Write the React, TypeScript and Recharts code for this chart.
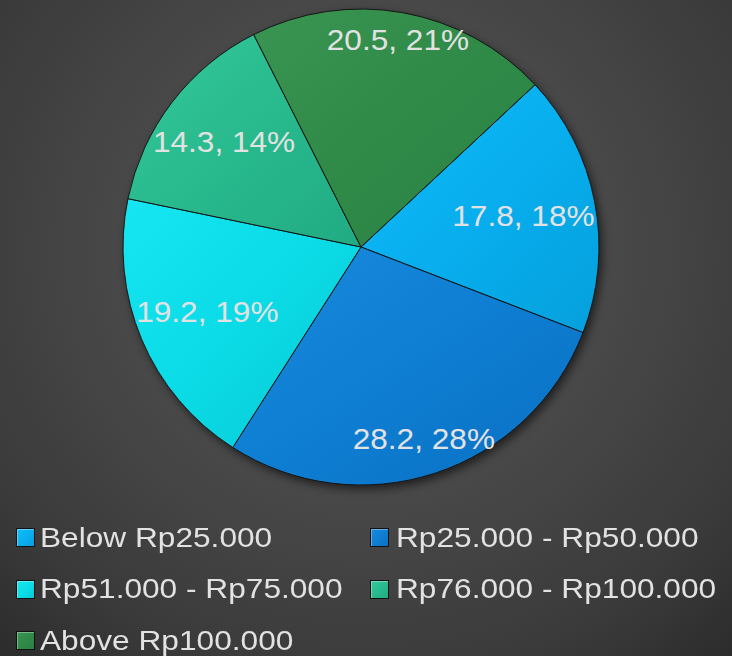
import { PieChart, Pie, Cell, Legend } from 'recharts';

const categories = [
  'Below Rp25.000',
  'Rp25.000 - Rp50.000',
  'Rp51.000 - Rp75.000',
  'Rp76.000 - Rp100.000',
  'Above Rp100.000',
];
const values = [17.8, 28.2, 19.2, 14.3, 20.5];

// slice shading: base colour plus lighter / darker ends of the gradient
const baseColors = ['#08aeee', '#0e7ed2', '#0bdbe6', '#28b98d', '#2f8a48'];
const lightColors = ['#12bcfb', '#1a8ade', '#16e6f2', '#34c99a', '#3a9452'];
const darkColors = ['#05a0dc', '#0a70c2', '#07c8d4', '#21ab83', '#2a8142'];

const data = categories.map((name, i) => ({ name, value: values[i] }));
const total = values.reduce((a, b) => a + b, 0);

const RADIAN = Math.PI / 180;
const FONT = "'Liberation Sans', Arial, Helvetica, sans-serif";
const LABEL_W = 142;
const LABEL_H = 30;

function renderLabel(props: any) {
  const { cx, cy, midAngle, outerRadius, value } = props;
  const c = Math.cos(-midAngle * RADIAN);
  const s = Math.sin(-midAngle * RADIAN);
  // keep the label box inside the slice near the rim
  const r = outerRadius - (LABEL_W / 2) * Math.abs(c) - (LABEL_H / 2) * Math.abs(s);
  const x = cx + r * c;
  const y = cy + r * s;
  const pct = Math.round(+((value * 100) / total).toFixed(6));
  return (
    <text
      transform={`translate(${x},${y}) scale(1.09,1)`}
      textAnchor="middle"
      dominantBaseline="central"
      fill="#e2e2e2"
      fontSize={29}
      fontFamily={FONT}
    >
      {`${value}, ${pct}%`}
    </text>
  );
}

function LegendContent(props: any) {
  const payload = [...(props.payload || [])].sort(
    (a: any, b: any) => categories.indexOf(a.value) - categories.indexOf(b.value)
  );
  return (
    <div style={{ position: 'relative', width: 732, height: 151 }}>
      {payload.map((entry: any) => {
        const i = categories.indexOf(entry.value);
        const col = i % 2;
        const row = Math.floor(i / 2);
        return (
          <div
            key={`leg-${i}`}
            style={{
              position: 'absolute',
              left: col === 0 ? 16 : 370,
              top: 32.5 + row * 51.7 - 14,
              height: 28,
              display: 'flex',
              alignItems: 'center',
            }}
          >
            <span
              style={{
                display: 'inline-block',
                width: 17,
                height: 17,
                border: '1px solid #111',
                background: `linear-gradient(135deg, ${lightColors[i]} 0%, ${baseColors[i]} 55%, ${darkColors[i]} 100%)`,
                boxShadow: 'inset 1px 1px 0 rgba(255,255,255,0.35)',
              }}
            />
            <span
              style={{
                display: 'inline-block',
                marginLeft: col === 0 ? 5 : 7,
                fontFamily: FONT,
                fontSize: 28,
                lineHeight: '28px',
                color: '#e2e2e2',
                whiteSpace: 'nowrap',
                transform: 'scaleX(1.13)',
                transformOrigin: 'left center',
              }}
            >
              {entry.value}
            </span>
          </div>
        );
      })}
    </div>
  );
}

export default function App() {
  return (
    <div
      style={{
        position: 'absolute',
        left: 0,
        top: 0,
        width: 732,
        height: 656,
        overflow: 'hidden',
        background:
          'radial-gradient(circle 560px at 366px 250px, #565656 0%, #484848 45%, #3a3a3a 78%, #2a2a2a 100%)',
      }}
    >
      <style>{`.recharts-pie { filter: drop-shadow(3px 4px 4px rgba(0,0,0,0.55)); }`}</style>
      <PieChart width={732} height={656} margin={{ top: 0, right: 0, bottom: 0, left: 0 }}>
        <defs>
          {baseColors.map((c, i) => (
            <linearGradient key={`g-${i}`} id={`slice-${i}`} x1="0" y1="0" x2="1" y2="1">
              <stop offset="0%" stopColor={lightColors[i]} />
              <stop offset="50%" stopColor={c} />
              <stop offset="100%" stopColor={darkColors[i]} />
            </linearGradient>
          ))}
        </defs>
        <Pie
          data={data}
          dataKey="value"
          nameKey="name"
          cx={361}
          cy={247}
          outerRadius={238}
          startAngle={43}
          endAngle={-317}
          stroke="#151515"
          strokeWidth={1}
          label={renderLabel}
          labelLine={false}
          isAnimationActive={false}
        >
          {data.map((entry, i) => (
            <Cell key={`cell-${i}`} fill={`url(#slice-${i})`} />
          ))}
        </Pie>
        <Legend
          content={<LegendContent />}
          wrapperStyle={{ position: 'absolute', left: 0, top: 505, width: 732, height: 151 }}
        />
      </PieChart>
    </div>
  );
}
